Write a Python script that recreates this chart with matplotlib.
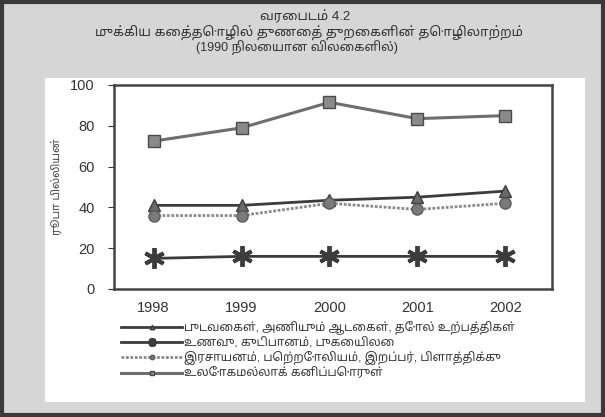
import matplotlib
matplotlib.use("Agg")
import matplotlib.pyplot as plt
from matplotlib.patches import Rectangle

plt.rcParams['font.family'] = ['Liberation Sans', 'Noto Sans Tamil', 'Lohit Tamil', 'DejaVu Sans']

years = [1998, 1999, 2000, 2001, 2002]

# ரூபா பில்லியன் (1990 நிலையான விலைகளில்)
textiles = [41, 41, 43.5, 45, 48]
food = [15, 16, 16, 16, 16]
chemicals = [36, 36, 42, 39, 42]
minerals = [72.5, 79, 91.5, 83.5, 85]

labels = [
    'புடவைகள், அணியும் ஆடைகள், தோல் உற்பத்திகள்',
    'உணவு, குடிபானம், புகையிலை',
    'இரசாயனம், பெற்றோலியம், இறப்பர், பிளாத்திக்கு',
    'உலோகமல்லாக் கனிப்பொருள்',
]
title_lines = ['வரைபடம் 4.2',
               'முக்கிய கைத்தொழில் துணைத் துறைகளின் தொழிலாற்றம்',
               '(1990 நிலையான விலைகளில்)']
ylabel = 'ரூபா பில்லியன்'

fig = plt.figure(figsize=(6.05, 4.17), dpi=100, facecolor='#d6d6d6')

# white panel + dark frame, like the scanned page
fig.patches.append(Rectangle((45/605, 1-402/417), 540/605, 324/417,
                             transform=fig.transFigure, facecolor='white',
                             edgecolor='none', zorder=-5))
fig.patches.append(Rectangle((0.003, 0.004), 0.994, 0.992, transform=fig.transFigure,
                             facecolor='none', edgecolor='#3a3a3a', lw=3, zorder=-4))

ax = fig.add_axes([114/605, 1-289/417, 438/605, 204/417])
ax.set_zorder(2)
ax.set_facecolor('white')

ax.plot(years, textiles, color='#3c3c3c', lw=2, marker='^', ms=8, mfc='#6a6a6a',
        mec='#3c3c3c', label=labels[0])
ax.plot(years, food, color='#3c3c3c', lw=2, marker=(6, 2, 0), ms=15, mew=2.8,
        mec='#3c3c3c', label=labels[1])
ax.plot(years, chemicals, color='#8a8a8a', lw=2, ls=(0, (1, 0.6)), marker='o', ms=8,
        mfc='#7a7a7a', mec='#5a5a5a', label=labels[2])
ax.plot(years, minerals, color='#6e6e6e', lw=2.2, marker='s', ms=8, mfc='#8a8a8a',
        mec='#4a4a4a', label=labels[3])

ax.set_xlim(1997.55, 2002.53)
ax.set_ylim(0, 100)
ax.set_yticks(range(0, 101, 20))
ax.set_xticks(years)
ax.tick_params(axis='x', length=0, pad=9, labelsize=10.5, colors='#333333')
ax.tick_params(axis='y', length=4, width=0.8, pad=10, labelsize=10.5,
               colors='#333333', direction='out')
for s in ax.spines.values():
    s.set_color('#444444')
    s.set_linewidth(1.8)

ax.set_ylabel(ylabel, fontsize=8, color='#444444', labelpad=6)

fig.text(0.505, 1-16/417, title_lines[0], ha='center', va='center', fontsize=9.5, color='#333333')
fig.text(0.51, 1-32/417, title_lines[1], ha='center', va='center', fontsize=9.5, color='#333333')
fig.text(0.49, 1-48/417, title_lines[2], ha='center', va='center', fontsize=9, color='#333333')

leg = ax.legend(loc='upper left', bbox_to_anchor=(121/605, 1-321/417),
                bbox_transform=fig.transFigure, frameon=False, fontsize=8.5,
                handlelength=5.2, handletextpad=0.1, labelspacing=0.2,
                markerscale=0.4, borderaxespad=0, borderpad=0)
for t in leg.get_texts():
    t.set_color('#333333')

fig.savefig('out.png', dpi=100, facecolor=fig.get_facecolor())
